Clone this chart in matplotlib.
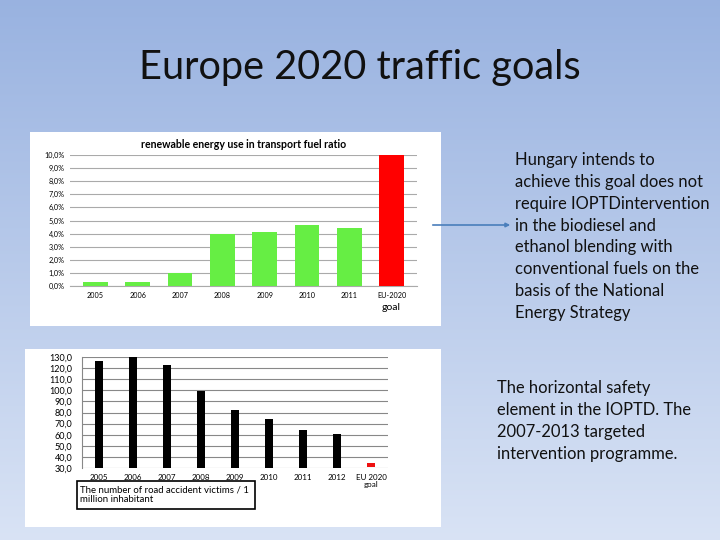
import numpy as np
import matplotlib.pyplot as plt
from matplotlib.patches import Rectangle, FancyArrowPatch

plt.rcParams['font.family'] = ['Lato', 'DejaVu Sans']

# renewable energy chart
fuel_years = ['2005', '2006', '2007', '2008', '2009', '2010', '2011', 'EU-2020']
fuel_ratio = [0.3, 0.3, 1.0, 4.0, 4.1, 4.65, 4.45, 10.0]
fuel_ticks = [0, 1, 2, 3, 4, 5, 6, 7, 8, 9, 10]

# road accident chart
acc_years = ['2005', '2006', '2007', '2008', '2009', '2010', '2011', '2012', 'EU 2020\ngoal']
acc_victims = [126, 130, 123, 99, 82, 74, 64, 60.5, 34.5]
acc_ticks = [30, 40, 50, 60, 70, 80, 90, 100, 110, 120, 130]

fig = plt.figure(figsize=(7.2, 5.4), dpi=100)

# slide background gradient
bg = fig.add_axes([0, 0, 1, 1])
grad = np.linspace(0, 1, 256).reshape(-1, 1)
top = np.array([0.60, 0.70, 0.88])
bot = np.array([0.85, 0.89, 0.96])
img = top + (bot - top) * grad[:, :, None]
bg.imshow(img, aspect='auto', extent=[0, 1, 0, 1])
bg.set_axis_off()

fig.text(0.5, 1 - 68 / 540, 'Europe 2020 traffic goals', ha='center', va='center',
         fontsize=28.6, color='#111111')

W, H = 720, 540

def fbox(x0, y0, x1, y1):
    return [x0 / W, 1 - y1 / H, (x1 - x0) / W, (y1 - y0) / H]

# white panels
for (x0, y0, x1, y1) in [(30, 132, 441, 326), (25, 349, 441, 527)]:
    r = fbox(x0, y0, x1, y1)
    fig.patches.append(Rectangle((r[0], r[1]), r[2], r[3], transform=fig.transFigure,
                                 facecolor='white', edgecolor='none', zorder=1))

# top chart
ax1 = fig.add_axes(fbox(70, 155, 417, 286))
ax1.set_zorder(2)
colors1 = ['#66ee44'] * 7 + ['#ff0000']
x1 = np.arange(len(fuel_years))
ax1.bar(x1, fuel_ratio, width=0.58, color=colors1, zorder=3)
ax1.set_ylim(0, 10)
ax1.set_xlim(-0.6, len(fuel_years) - 0.4)
ax1.set_yticks(fuel_ticks)
ax1.set_yticklabels([('%.1f%%' % v).replace('.', ',') for v in fuel_ticks], fontsize=5.2)
ax1.set_xticks(x1)
ax1.set_xticklabels(fuel_years, fontsize=5.2)
ax1.text(x1[-1], -1.3, 'goal', ha='center', va='top', fontsize=7.5)
ax1.grid(axis='y', color='#aaaaaa', linewidth=0.8, zorder=0)
ax1.tick_params(length=0, pad=4)
for s in ['top', 'right', 'left']:
    ax1.spines[s].set_visible(False)
ax1.spines['bottom'].set_color('#aaaaaa')
ax1.patch.set_alpha(0)
ax1.set_title('renewable energy use in transport fuel ratio', fontsize=7.6,
              fontweight='bold', pad=5)

# bottom chart
ax2 = fig.add_axes(fbox(82, 357, 388, 468))
ax2.set_zorder(2)
x2 = np.arange(len(acc_years))
colors2 = ['black'] * 8 + ['#ee1111']
bottoms = [30] * 8 + [31]
heights = [v - b for v, b in zip(acc_victims, bottoms)]
ax2.bar(x2, heights, bottom=bottoms, width=0.26, color=colors2, zorder=3)
ax2.set_ylim(30, 130)
ax2.set_xlim(-0.5, len(acc_years) - 0.5)
ax2.set_yticks(acc_ticks)
ax2.set_yticklabels([('%.1f' % v).replace('.', ',') for v in acc_ticks], fontsize=6.5)
ax2.set_xticks(x2)
ax2.set_xticklabels(acc_years, fontsize=5.8, linespacing=1.0)
ax2.grid(axis='y', color='#888888', linewidth=0.8, zorder=0)
ax2.tick_params(axis='y', length=0, pad=7)
ax2.tick_params(axis='x', length=0, pad=4)
for s in ['top', 'right', 'bottom']:
    ax2.spines[s].set_visible(False)
ax2.spines['left'].set_color('#888888')
ax2.patch.set_alpha(0)

r = fbox(77, 481, 255, 509)
fig.patches.append(Rectangle((r[0], r[1]), r[2], r[3], transform=fig.transFigure,
                             facecolor='white', edgecolor='black', linewidth=1.2, zorder=3))
fig.text(80 / W, 1 - 495 / H, 'The number of road accident victims / 1\nmillion inhabitant',
         ha='left', va='center', fontsize=6.9, linespacing=1.1, zorder=4)

# arrow
arr = FancyArrowPatch((430 / W, 1 - 225 / H), (513 / W, 1 - 225 / H),
                      transform=fig.transFigure, arrowstyle='-|>', mutation_scale=6,
                      color='#4a7ebb', linewidth=1.2, zorder=5)
fig.patches.append(arr)

fig.text(515 / W, 1 - 152 / H,
         'Hungary intends to\nachieve this goal does not\nrequire IOPTDintervention\n'
         'in the biodiesel and\nethanol blending with\nconventional fuels on the\n'
         'basis of the National\nEnergy Strategy',
         ha='left', va='top', fontsize=11.9, linespacing=1.45, color='#111111')
fig.text(497 / W, 1 - 380 / H,
         'The horizontal safety\nelement in the IOPTD. The\n2007-2013 targeted\n'
         'intervention programme.',
         ha='left', va='top', fontsize=11.9, linespacing=1.45, color='#111111')

fig.savefig('out.png', dpi=100)
